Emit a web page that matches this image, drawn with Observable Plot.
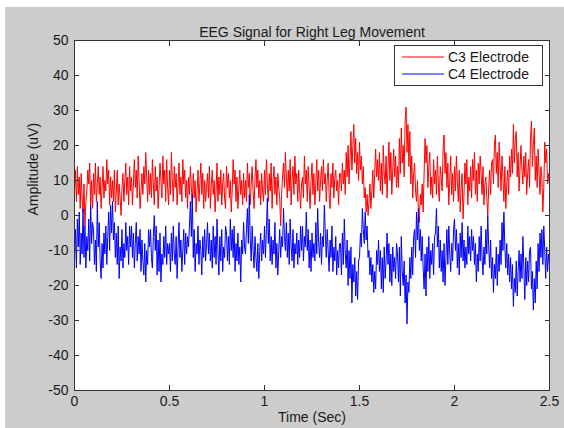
<!DOCTYPE html>
<html><head><meta charset="utf-8">
<script src="https://cdn.jsdelivr.net/npm/d3@7"></script>
<script src="https://cdn.jsdelivr.net/npm/@observablehq/plot@0.6"></script>
<style>
body{margin:0;background:#fff;}
#wrap{position:relative;width:564px;height:428px;overflow:hidden;
  background:linear-gradient(#cccccc,#cccccc) 5px 7px/100% 100% no-repeat #fff;
  font-family:"Liberation Sans",Arial,sans-serif;}
#wrap svg{position:absolute;left:0;top:0;}
</style></head><body><div id="wrap"></div>
<script>
const title = "EEG Signal for Right Leg Movement";
const xLabel = "Time (Sec)";
const yLabel = "Amplitude (uV)";
const seriesNames = ["C3 Electrode", "C4 Electrode"];
const xTicks = [0, 0.5, 1, 1.5, 2, 2.5];
const yTicks = [-50, -40, -30, -20, -10, 0, 10, 20, 30, 40, 50];
const sampleStep = 0.005; // seconds between samples

const c3 = [
  8, 13, 4, 14, 6, 11, 2, 12, 5, 1, 9, -3, 4, 7, 13, 9, 15, 3, 10, 2,
  12, 6, 15, 4, 9, 14, 6, 11, 2, 8, 14, 5, 10, 7, 16, 9, 13, 3, 11, 5,
  10, 4, 13, 1, 7, 13, 3, 9, 5, 0, 8, 12, 4, 10, 15, 6, 11, 3, 14, 7,
  11, 3, 9, 16, 8, 13, 5, 17, 10, 2, 7, 12, 6, 14, 9, 18, 11, 4, 13, 6,
  12, 5, 16, 9, 3, 14, 7, 11, 2, 8, 15, 10, 5, 17, 9, 13, 4, 16, 8, 3,
  13, 6, 18, 10, 4, 14, 8, 12, 3, 9, 15, 6, 11, 4, 16, 9, 13, 5, 10, 2,
  11, 6, 14, 8, 3, 12, 5, 10, 1, 7, 13, 4, 9, 15, 6, 12, 2, 10, 4, 8,
  12, 5, 14, 2, 9, 13, 6, 10, 1, 7, 15, 4, 11, 6, 13, 3, 9, 12, 5, 2,
  14, 8, 12, 5, 10, 1, 7, 16, 9, 13, 4, 11, 2, 8, 13, 6, 10, 3, 12, 5,
  10, 4, 15, 8, 12, 3, 9, 14, 7, 2, 11, 16, 8, 13, 5, 10, 3, 12, 7, 4,
  13, 6, 16, 9, 4, 12, 7, 15, 2, 10, 14, 6, 11, 3, 12, 8, 5, -3, 6, 11,
  15, 8, 18, 11, 5, 13, 7, 16, 3, 10, 14, 6, 17, 9, 12, 4, 13, 7, 2, 9,
  11, 5, 17, 9, 13, 4, 14, 8, 2, 10, 15, 6, 12, 3, 9, 16, 7, 13, 4, 10,
  14, 7, 16, 9, 12, 4, 10, 15, 6, 2, 12, 8, 15, 5, 11, 13, 7, 10, 3, 12,
  12, 7, 15, 9, 13, 6, 18, 11, 20, 9, 16, 24, 13, 20, 26, 15, 22, 12, 18, 10,
  21, 13, 17, 9, 14, 5, 8, 1, 6, 0, 4, 9, 2, 7, 13, 5, 12, 19, 11, 16,
  10, 18, 7, 15, 6, 20, 12, 9, 17, 5, 14, 21, 10, 18, 6, 13, 19, 11, 17, 8,
  14, 8, 22, 12, 25, 15, 20, 11, 27, 31, 18, 26, 14, 24, 9, 17, 5, 12, 15, 7,
  4, 10, 1, -2, 6, 3, 9, 1, 12, 22, 15, 20, 8, 14, 18, 6, 11, 5, 16, 9,
  13, 6, 17, 9, 4, 14, 11, 7, 19, 23, 12, 18, 8, 15, 3, 10, 17, 6, 12, 4,
  14, 7, 17, 10, 4, 13, 1, 8, 12, -1, 6, 15, 9, 16, 3, 11, 7, 14, 5, 16,
  10, 18, 6, 13, 4, 15, 9, 17, 12, 6, 14, 3, 9, 11, 5, 0, 8, 13, 6, 15,
  16, 9, 20, 23, 12, 18, 8, 21, 14, 7, 17, 11, 4, 14, 2, 9, 13, 6, 17, 11,
  19, 12, 26, 15, 22, 24, 11, 18, 7, 14, 20, 13, 9, 17, 11, 18, 6, 12, 16, 8,
  22, 27, 14, 20, 25, 10, 17, 8, 19, 12, 6, 14, 11, 1, 8, 21, 15, 19, 9, 12,
  9
];
const c4 = [
  -13, -4, -15, -1, -9, 1, -14, -5, -11, 2, -12, -3, -15, -6, -10, -1, -13, 3, -8, -2,
  -4, -14, -7, -16, 4, -9, -2, -13, -18, -8, -15, -5, -11, -3, -14, -6, 1, -10, 3, -5,
  4, -7, -2, -12, -5, -14, -3, -18, -9, -13, -4, -15, -8, -12, -2, -10, -6, -14, -3, -9,
  -3, -12, -5, -15, -8, -2, -13, -6, -11, -4, -16, -7, -13, -17, -8, -19, -10, -14, -4, -9,
  -4, -12, -15, -6, 0, -10, -3, -17, -7, -16, -5, -19, -11, -14, -6, -12, -3, -14, -8, -11,
  -8, -16, -5, -13, -3, -11, -14, -6, -18, -9, -2, -12, -7, -16, -10, -4, -14, -5, -11, -6,
  -9, -3, 4, -6, 6, -12, -4, -16, -8, -11, -3, -14, -7, -10, -17, -6, -12, -4, -13, -8,
  -2, -11, -5, -13, -7, -15, -3, -12, -6, -14, -1, -10, -17, -6, -13, -4, -16, -9, -12, -3,
  -5, -13, -6, -14, -1, -10, -4, -12, -3, -16, -8, -13, -5, -14, -9, -19, -7, -11, -2, -9,
  -11, -4, 2, -8, 6, -7, -13, -3, -10, -15, -6, -12, -16, -8, -18, -10, -5, -13, -7, -11,
  -3, -12, -4, 5, -8, -1, -13, -6, -14, -7, -11, -2, -15, -8, -17, -10, -4, -12, -6, -9,
  2, -6, -10, -2, -12, -5, -14, -1, -9, -13, -4, -15, -8, -11, -5, -14, -7, -12, -3, -10,
  -3, -13, -6, -9, 1, -10, -4, -15, -7, -16, -5, -12, -8, -13, -2, -11, 2, -8, -12, -5,
  -14, -6, -9, 3, -5, -12, -4, -10, -16, -7, -12, -3, -16, -9, -13, -6, -17, -10, -15, -8,
  -8, -17, -5, -14, -1, -11, -15, -7, -20, -10, -18, -9, -25, -14, -19, -12, -23, -16, -24, -13,
  -12, -5, -9, 2, -4, -8, 1, -7, -3, -12, -10, -17, -12, -19, -14, -22, -16, -21, -10, -14,
  -7, -16, -10, -21, -12, -22, -9, -18, -13, -5, -14, -8, -19, -11, -20, -9, -16, -12, -18, -8,
  -11, -19, -9, -23, -6, -16, -20, -13, -25, -17, -31, -19, -22, -12, -18, -9, -17, -6, -4, -12,
  1, -7, 2, -10, -4, -13, -6, -15, -21, -11, -23, -9, -16, -6, -18, -10, -14, -8, -17, -6,
  -5, 2, -9, -3, -15, -7, -16, -10, -19, -8, -20, -12, -4, -14, -3, -11, -16, -8, -13, -4,
  -1, -10, -4, -15, -8, -17, -5, -12, -2, -13, -7, -15, -9, -14, -3, -11, -6, -13, -4, -10,
  -6, -14, -8, -19, -11, -16, -6, -13, -3, -12, -17, -9, -14, -4, -11, 0, -9, -15, -7, -18,
  -12, -22, -14, -18, -9, -20, -11, -16, -7, -14, -2, -10, 1, -9, -15, -8, -17, -11, -19, -12,
  -21, -14, -26, -18, -22, -13, -23, -16, -10, -19, -11, -18, -6, -15, -24, -12, -20, -13, -19, -10,
  -9, -21, -16, -27, -18, -25, -13, -21, -8, -16, -5, -12, -4, -14, -3, -10, -18, -9, -16, -11,
  -14
];
const colors = ["#ff0000", "#0000ff"];

const rowsC3 = c3.map((v, i) => ({t: +(i * sampleStep).toFixed(4), v}));
const rowsC4 = c4.map((v, i) => ({t: +(i * sampleStep).toFixed(4), v}));

const axisCol = "#333";
const textCol = "#1a1a1a";
const fmt = d => String(d);

const chart = Plot.plot({
  width: 564, height: 428,
  marginLeft: 74, marginRight: 15, marginTop: 40, marginBottom: 38,
  style: {background: "transparent", fontFamily: "'Liberation Sans', Arial, sans-serif", fontSize: "14px", color: textCol, overflow: "visible"},
  x: {domain: [0, 2.5]},
  y: {domain: [-50, 50]},
  marks: [
    Plot.frame({fill: "white"}),
    Plot.line(rowsC3, {x: "t", y: "v", stroke: colors[0], strokeWidth: 1}),
    Plot.line(rowsC4, {x: "t", y: "v", stroke: colors[1], strokeWidth: 1}),
    Plot.axisX(xTicks, {anchor: "bottom", tickSize: -5, tickPadding: 11, tickFormat: fmt, stroke: axisCol, fill: textCol, fontSize: 14, label: null}),
    Plot.axisX(xTicks, {anchor: "top", tickSize: -5, tickFormat: () => "", stroke: axisCol, label: null}),
    Plot.axisY(yTicks, {anchor: "left", tickSize: -5, tickPadding: 11, tickFormat: fmt, stroke: axisCol, fill: textCol, fontSize: 14, label: null}),
    Plot.axisY(yTicks, {anchor: "right", tickSize: -5, tickFormat: () => "", stroke: axisCol, label: null}),
    Plot.frame({stroke: axisCol, strokeWidth: 1}),
    Plot.text([title], {text: d => d, frameAnchor: "top", dy: -13, fontSize: 14, fill: textCol}),
    Plot.text([xLabel], {text: d => d, frameAnchor: "bottom", dy: 31, fontSize: 14, fill: textCol}),
    Plot.text([yLabel], {text: d => d, frameAnchor: "left", dx: -41, rotate: -90, fontSize: 14, fill: textCol})
  ]
});
const wrap = document.getElementById("wrap");
wrap.appendChild(chart);

// legend (MATLAB-style box inside the axes)
const lg = d3.select(wrap).append("svg")
  .attr("width", 149).attr("height", 41)
  .style("position", "absolute").style("left", "394px").style("top", "45px");
lg.append("rect").attr("x", 0.5).attr("y", 0.5).attr("width", 148).attr("height", 40)
  .attr("fill", "white").attr("stroke", axisCol);
seriesNames.forEach((name, i) => {
  const cy = 12 + i * 17;
  lg.append("line").attr("x1", 8).attr("x2", 50).attr("y1", cy).attr("y2", cy)
    .attr("stroke", colors[i]).attr("stroke-width", 1);
  lg.append("text").attr("x", 54).attr("y", cy).attr("dy", "0.35em")
    .attr("font-size", 14).attr("fill", textCol)
    .attr("font-family", "'Liberation Sans', Arial, sans-serif").text(name);
});
</script></body></html>
